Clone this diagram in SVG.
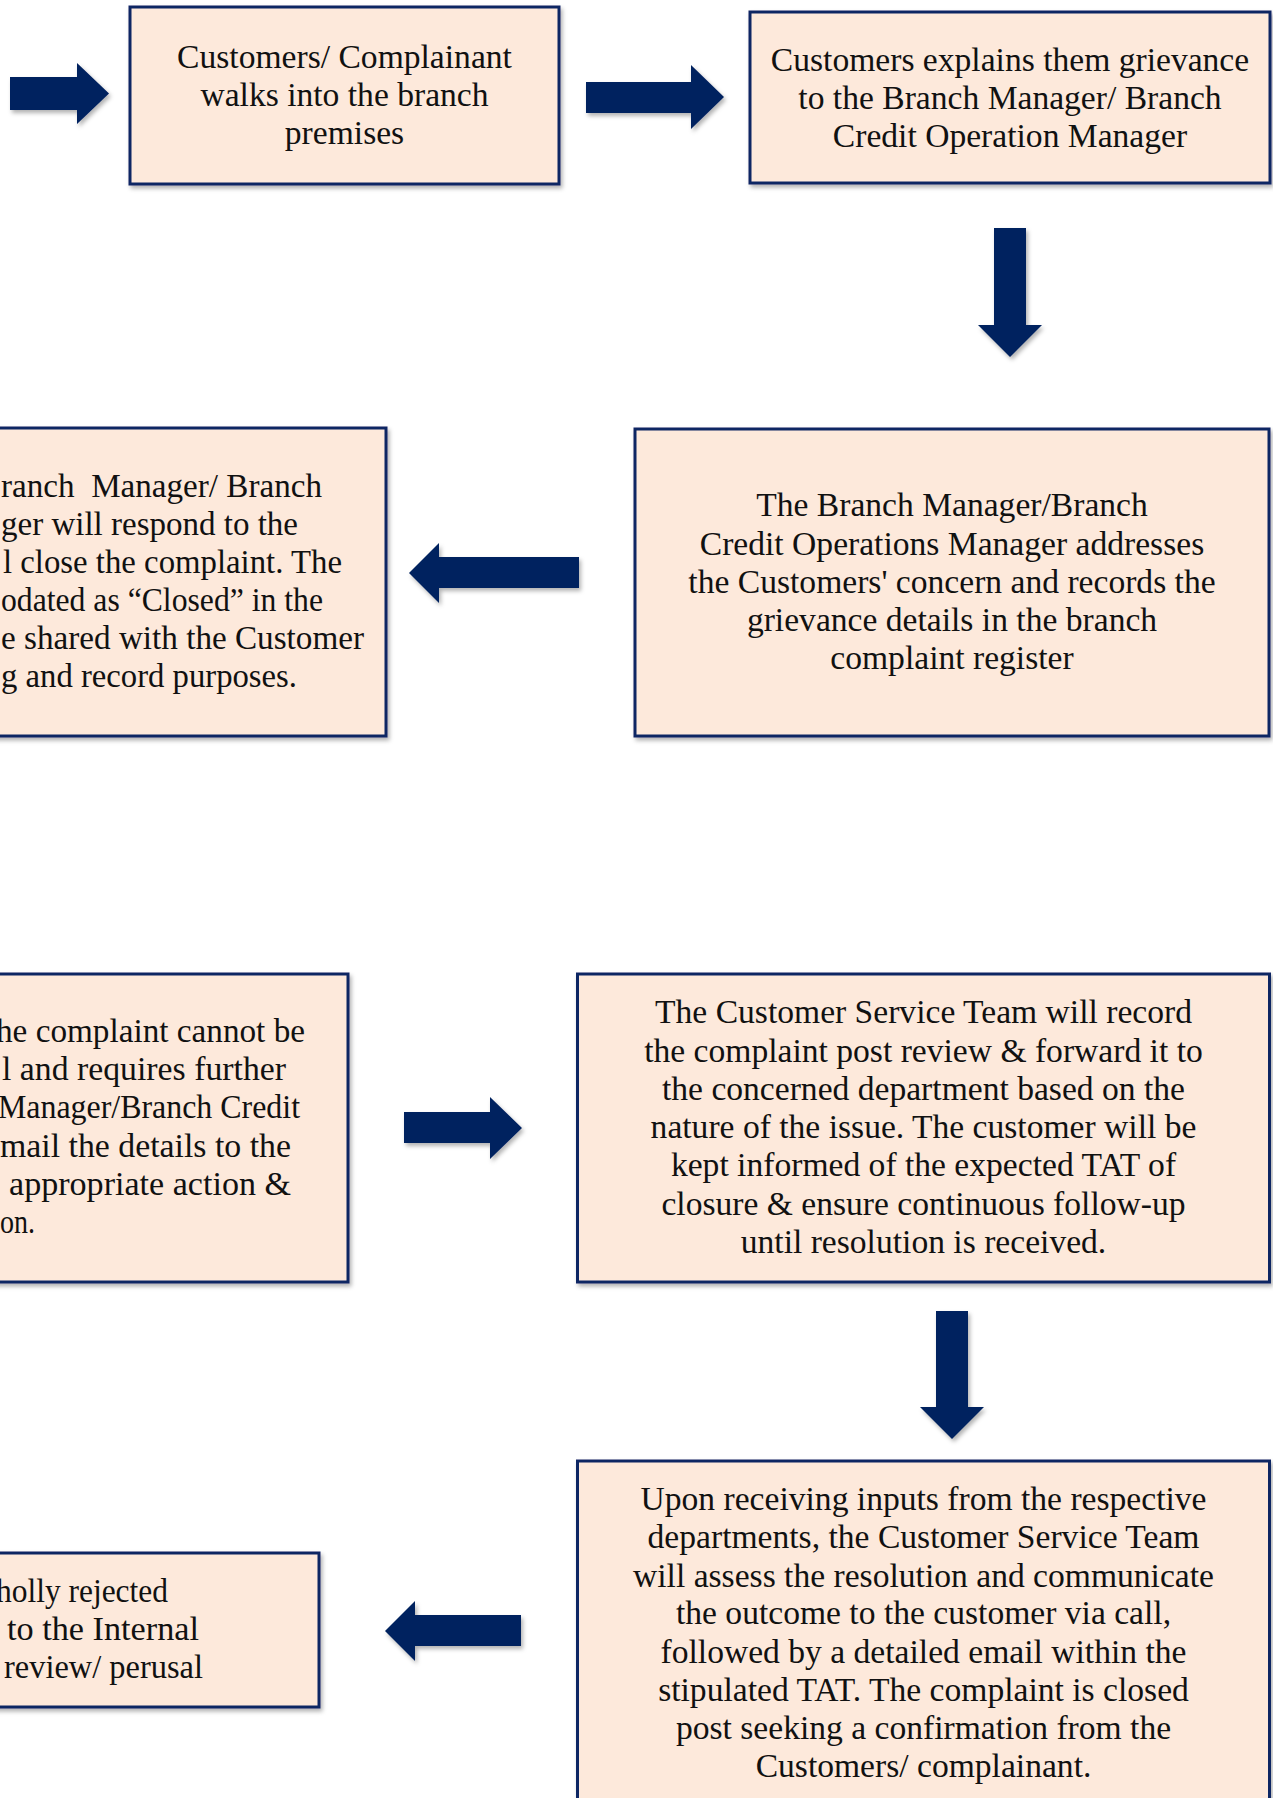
<svg xmlns="http://www.w3.org/2000/svg" width="1273" height="1798" viewBox="0 0 1273 1798">
<defs>
<filter id="sh" x="-10%" y="-10%" width="130%" height="130%">
<feDropShadow dx="2" dy="3" stdDeviation="2" flood-color="#000" flood-opacity="0.3"/>
</filter>
<style>
.box{fill:#FDE9DB;stroke:#0E2764;stroke-width:3;filter:url(#sh)}
.arr{fill:#03215F;filter:url(#sh)}
text{font-family:"Liberation Serif","Times New Roman",serif;font-size:33.6px;fill:#111}
.c{text-anchor:middle}
.s{text-anchor:start;white-space:pre}
</style>
</defs>
<rect width="1273" height="1798" fill="#fff"/>
<g id="connectors">
<polygon class="arr" points="10,77 77,77 77,63 109,93.5 77,124 77,110 10,110"/>
<polygon class="arr" points="586,82 691,82 691,65 724,97 691,129 691,113 586,113"/>
<polygon class="arr" points="994,228 1026,228 1026,325 1042,325 1010,357 978,325 994,325"/>
<polygon class="arr" points="579,557 439,557 439,543 409,573 439,603 439,588 579,588"/>
<polygon class="arr" points="404,1112 490,1112 490,1097 522,1128 490,1159 490,1143 404,1143"/>
<polygon class="arr" points="936,1311 968,1311 968,1407 984,1407 952,1439 920,1407 936,1407"/>
<polygon class="arr" points="521,1615 415,1615 415,1601 385,1631 415,1661 415,1646 521,1646"/>
</g>
<g id="node-walk-in">
<rect class="box" x="130" y="7" width="429" height="177"/>
<text class="c" x="344.5" y="68">Customers/ Complainant</text>
<text class="c" x="344.5" y="106">walks into the branch</text>
<text class="c" x="344.5" y="144">premises</text>
</g>
<g id="node-explain">
<rect class="box" x="750" y="12" width="520" height="171"/>
<text class="c" x="1010" y="71">Customers explains them grievance</text>
<text class="c" x="1010" y="108.5">to the Branch Manager/ Branch</text>
<text class="c" x="1010" y="146.5">Credit Operation Manager</text>
</g>
<g id="node-record">
<rect class="box" x="635" y="429" width="634" height="307"/>
<text class="c" x="952" y="516">The Branch Manager/Branch</text>
<text class="c" x="952" y="554.5">Credit Operations Manager addresses</text>
<text class="c" x="952" y="593">the Customers' concern and records the</text>
<text class="c" x="952" y="631">grievance details in the branch</text>
<text class="c" x="952" y="669">complaint register</text>
</g>
<g id="node-close">
<rect class="box" x="-260" y="428" width="646" height="308"/>
<text class="s" x="1" y="497" textLength="321" lengthAdjust="spacingAndGlyphs">ranch  Manager/ Branch</text>
<text class="s" x="1" y="535" textLength="297" lengthAdjust="spacingAndGlyphs">ger will respond to the</text>
<text class="s" x="3" y="573" textLength="339" lengthAdjust="spacingAndGlyphs">l close the complaint. The</text>
<text class="s" x="1" y="611" textLength="322" lengthAdjust="spacingAndGlyphs">odated as “Closed” in the</text>
<text class="s" x="1" y="649" textLength="363" lengthAdjust="spacingAndGlyphs">e shared with the Customer</text>
<text class="s" x="1" y="687" textLength="296" lengthAdjust="spacingAndGlyphs">g and record purposes.</text>
</g>
<g id="node-escalate">
<rect class="box" x="-300" y="974" width="648" height="308"/>
<text class="s" x="-4" y="1042" textLength="309" lengthAdjust="spacingAndGlyphs">he complaint cannot be</text>
<text class="s" x="2" y="1080" textLength="284" lengthAdjust="spacingAndGlyphs">l and requires further</text>
<text class="s" x="-2" y="1118" textLength="302" lengthAdjust="spacingAndGlyphs">Manager/Branch Credit</text>
<text class="s" x="0" y="1157" textLength="291" lengthAdjust="spacingAndGlyphs">mail the details to the</text>
<text class="s" x="9" y="1195" textLength="282" lengthAdjust="spacingAndGlyphs">appropriate action &amp;</text>
<text class="s" x="0" y="1233" textLength="35" lengthAdjust="spacingAndGlyphs">on.</text>
</g>
<g id="node-cst">
<rect class="box" x="577.5" y="974" width="692" height="308"/>
<text class="c" x="923.5" y="1023">The Customer Service Team will record</text>
<text class="c" x="923.5" y="1062">the complaint post review &amp; forward it to</text>
<text class="c" x="923.5" y="1100">the concerned department based on the</text>
<text class="c" x="923.5" y="1138">nature of the issue. The customer will be</text>
<text class="c" x="923.5" y="1176">kept informed of the expected TAT of</text>
<text class="c" x="923.5" y="1215">closure &amp; ensure continuous follow-up</text>
<text class="c" x="923.5" y="1253">until resolution is received.</text>
</g>
<g id="node-resolve">
<rect class="box" x="577.5" y="1461" width="692" height="360"/>
<text class="c" x="923.5" y="1510">Upon receiving inputs from the respective</text>
<text class="c" x="923.5" y="1548">departments, the Customer Service Team</text>
<text class="c" x="923.5" y="1587">will assess the resolution and communicate</text>
<text class="c" x="923.5" y="1624">the outcome to the customer via call,</text>
<text class="c" x="923.5" y="1663">followed by a detailed email within the</text>
<text class="c" x="923.5" y="1701">stipulated TAT. The complaint is closed</text>
<text class="c" x="923.5" y="1739">post seeking a confirmation from the</text>
<text class="c" x="923.5" y="1777">Customers/ complainant.</text>
</g>
<g id="node-rejected">
<rect class="box" x="-300" y="1553" width="619" height="154"/>
<text class="s" x="-4" y="1602" textLength="172" lengthAdjust="spacingAndGlyphs">holly rejected</text>
<text class="s" x="7" y="1640" textLength="192" lengthAdjust="spacingAndGlyphs">to the Internal</text>
<text class="s" x="4" y="1678" textLength="199" lengthAdjust="spacingAndGlyphs">review/ perusal</text>
</g>
</svg>
